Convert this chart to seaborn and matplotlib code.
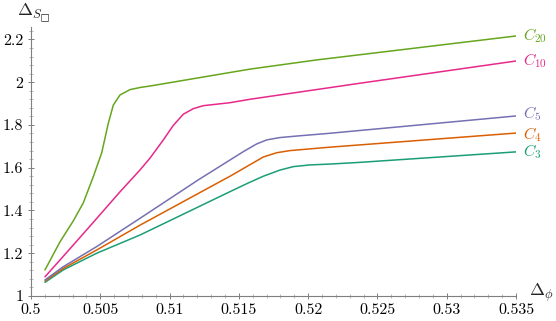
import numpy as np
import pandas as pd
import seaborn as sns
import matplotlib.pyplot as plt
from matplotlib.ticker import FixedLocator, MultipleLocator

# values
dphi_c3 = [0.50101, 0.50233, 0.50474, 0.50786, 0.51436, 0.51556, 0.51676, 0.51797, 0.51893,
           0.52013, 0.52157, 0.52374, 0.535]
ds_c3 = [1.064, 1.122, 1.200, 1.285, 1.488, 1.525, 1.560, 1.589, 1.605,
         1.613, 1.617, 1.625, 1.674]

dphi_c4 = [0.50101, 0.50233, 0.50474, 0.50786, 0.51387, 0.51436, 0.51556, 0.51676, 0.51773,
           0.51869, 0.52157, 0.535]
ds_c4 = [1.070, 1.129, 1.215, 1.331, 1.543, 1.560, 1.605, 1.650, 1.670,
         1.680, 1.696, 1.762]

dphi_c5 = [0.50101, 0.50233, 0.50474, 0.50786, 0.51207, 0.51436, 0.51532, 0.51628, 0.51701,
           0.51797, 0.51917, 0.52157, 0.535]
ds_c5 = [1.075, 1.137, 1.231, 1.363, 1.543, 1.636, 1.675, 1.711, 1.730,
         1.741, 1.748, 1.761, 1.842]

dphi_c10 = [0.50101, 0.50209, 0.50426, 0.50642, 0.50786, 0.50859, 0.50955, 0.51027, 0.51099,
            0.51171, 0.51243, 0.51436, 0.5158, 0.52374, 0.535]
ds_c10 = [1.090, 1.168, 1.327, 1.487, 1.589, 1.645, 1.730, 1.798, 1.850,
          1.876, 1.890, 1.904, 1.920, 1.995, 2.099]

dphi_c20 = [0.50101, 0.50209, 0.50305, 0.50377, 0.50449, 0.50510, 0.50558, 0.50594, 0.50642,
            0.50714, 0.50786, 0.50859, 0.5158, 0.52061, 0.535]
ds_c20 = [1.122, 1.253, 1.351, 1.435, 1.557, 1.669, 1.808, 1.893, 1.940,
          1.965, 1.975, 1.982, 2.061, 2.104, 2.216]

names = ["C3", "C4", "C5", "C10", "C20"]
labels = ["$C_3$", "$C_4$", "$C_5$", "$C_{10}$", "$C_{20}$"]
xs = [dphi_c3, dphi_c4, dphi_c5, dphi_c10, dphi_c20]
ys = [ds_c3, ds_c4, ds_c5, ds_c10, ds_c20]

xticks = [0.5, 0.505, 0.51, 0.515, 0.52, 0.525, 0.53, 0.535]
xticklabels = ["0.5", "0.505", "0.51", "0.515", "0.52", "0.525", "0.53", "0.535"]
yticks = [1, 1.2, 1.4, 1.6, 1.8, 2, 2.2]
yticklabels = ["1", "1.2", "1.4", "1.6", "1.8", "2", "2.2"]

frames = []
for n, x, y in zip(names, xs, ys):
    frames.append(pd.DataFrame({"dphi": x, "ds": y, "curve": n}))
df = pd.concat(frames, ignore_index=True)

sns.set_style("ticks")
plt.rcParams["font.family"] = "serif"
plt.rcParams["font.serif"] = ["cmr10", "DejaVu Serif"]
plt.rcParams["mathtext.fontset"] = "cm"
plt.rcParams["axes.formatter.use_mathtext"] = True

palette = sns.color_palette("Dark2", 5)

fig = plt.figure(figsize=(5.56, 3.21), dpi=100)
ax = fig.add_axes([31 / 556, 25 / 321, 485 / 556, 269 / 321])

sns.lineplot(data=df, x="dphi", y="ds", hue="curve", palette=palette,
             sort=False, estimator=None, linewidth=1.1, legend=False, ax=ax)

ax.set_xlim(0.5, 0.535)
ax.set_ylim(1.0, 2.258)

for s in ["top", "right"]:
    ax.spines[s].set_visible(False)
for s in ["left", "bottom"]:
    ax.spines[s].set_color("#7f7f7f")
    ax.spines[s].set_linewidth(0.8)

ax.xaxis.set_major_locator(FixedLocator(xticks))
ax.set_xticklabels(xticklabels)
ax.yaxis.set_major_locator(FixedLocator(yticks))
ax.set_yticklabels(yticklabels)
ax.xaxis.set_minor_locator(MultipleLocator(0.001))
ax.yaxis.set_minor_locator(MultipleLocator(0.04))
ax.tick_params(which="major", direction="inout", length=5, width=0.7, color="#7f7f7f",
               labelsize=11.5, labelcolor="black", pad=3)
ax.tick_params(which="minor", direction="inout", length=3, width=0.5, color="#9f9f9f")

ax.set_xlabel("")
ax.set_ylabel("")
fig.text(529 / 556, 1 - 293 / 321, r"$\Delta_\phi$", fontsize=13, ha="left", va="center")
fig.text(17 / 556, 1 - 13 / 321, "$\\Delta_{S_{\u25a1}}$", fontsize=13, ha="left", va="center")

# small vertical nudges keep the close C4 / C5 labels apart
nudges = [0, -1, 1.5, 0, 0]
for lab, x, y, c, dy in zip(labels, xs, ys, palette, nudges):
    ax.annotate(lab, (x[-1], y[-1]), xytext=(5, dy), textcoords="offset points",
                color=c, fontsize=11.5, ha="left", va="center", annotation_clip=False)

fig.savefig("out.png", dpi=100)
